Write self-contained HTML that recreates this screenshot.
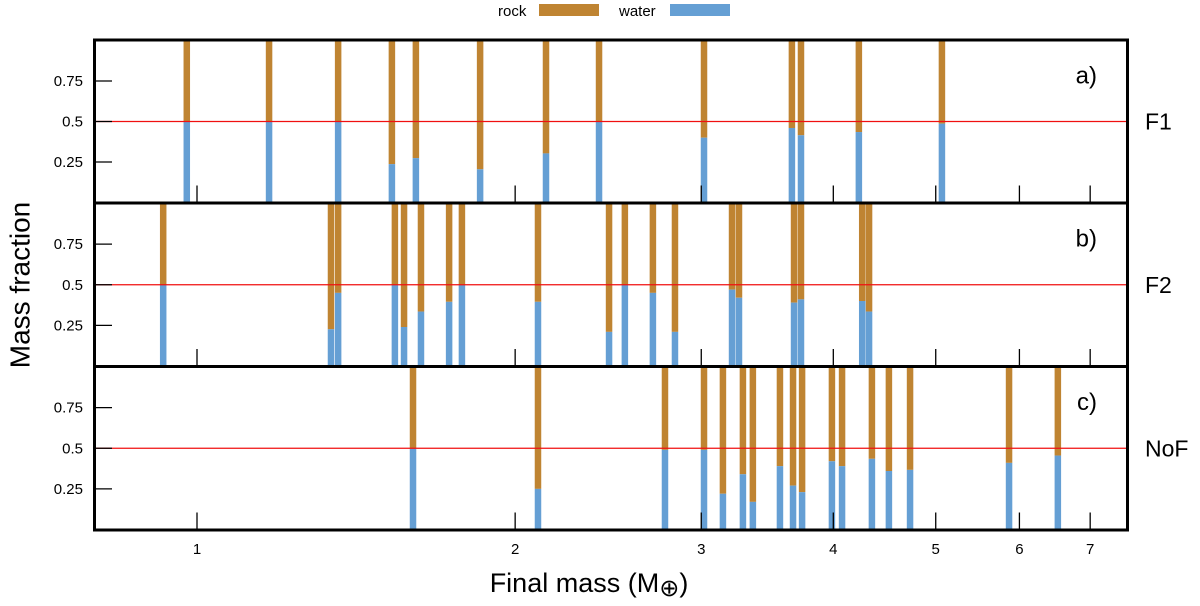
<!DOCTYPE html>
<html><head><meta charset="utf-8"><style>
html,body{margin:0;padding:0;background:#fff;}
svg{display:block;font-family:"Liberation Sans",sans-serif;}
</style></head><body>
<svg id="chart" width="1200" height="606" viewBox="0 0 1200 606" xmlns="http://www.w3.org/2000/svg">
<g id="legend">
  <text x="498" y="16" font-size="15">rock</text>
  <rect x="539" y="4" width="60" height="12" fill="#bf8432"/>
  <text x="619" y="16" font-size="15">water</text>
  <rect x="670" y="4" width="60" height="12" fill="#659fd4"/>
</g>
<g id="plot"></g>
<text transform="translate(22,285) rotate(-90)" text-anchor="middle" dominant-baseline="middle" font-size="28">Mass fraction</text>
<text x="589" y="592" text-anchor="middle" font-size="27">Final mass (M<tspan font-size="24" dy="4">⊕</tspan><tspan dy="-4">)</tspan></text>
</svg>
<script>
const xTicks = [1, 2, 3, 4, 5, 6, 7];
const yTicks = [0.25, 0.5, 0.75];
const yTickLabels = ["0.25", "0.5", "0.75"];
const panelLetters = ["a)", "b)", "c)"];
const panelNames = ["F1", "F2", "NoF"];
const massF1 = [0.978, 1.170, 1.360, 1.529, 1.611, 1.853, 2.139, 2.401, 3.018, 3.655, 3.728, 4.229, 5.068];
const waterF1 = [0.497, 0.497, 0.497, 0.237, 0.274, 0.205, 0.303, 0.497, 0.40, 0.46, 0.415, 0.435, 0.487];
const massF2 = [0.929, 1.339, 1.360, 1.539, 1.570, 1.629, 1.732, 1.781, 2.102, 2.454, 2.540, 2.700, 2.833, 3.208, 3.257, 3.672, 3.728, 4.260, 4.324];
const waterF2 = [0.5, 0.226, 0.45, 0.5, 0.24, 0.335, 0.395, 0.5, 0.395, 0.21, 0.5, 0.45, 0.21, 0.47, 0.42, 0.39, 0.41, 0.40, 0.335];
const massNoF = [1.601, 2.102, 2.772, 3.018, 3.145, 3.285, 3.357, 3.561, 3.664, 3.737, 3.988, 4.077, 4.351, 4.515, 4.728, 5.866, 6.524];
const waterNoF = [0.5, 0.25, 0.49, 0.49, 0.22, 0.34, 0.17, 0.39, 0.27, 0.23, 0.42, 0.39, 0.435, 0.36, 0.367, 0.41, 0.455];

const NS = "http://www.w3.org/2000/svg";
const plot = document.getElementById("plot");
const X0 = 95, X1 = 1127;
const panels = [{top: 40.5, bot: 202.5}, {top: 203.5, bot: 366}, {top: 367, bot: 529.5}];
const seriesMass = [massF1, massF2, massNoF];
const seriesWater = [waterF1, waterF2, waterNoF];
function xScale(m) { return 197 + 459 * Math.log(m); }
function mk(tag, attrs, parent) {
  const e = document.createElementNS(NS, tag);
  for (const k in attrs) e.setAttribute(k, attrs[k]);
  (parent || plot).appendChild(e);
  return e;
}
const BW = 6.5;
panels.forEach((p, pi) => {
  const yScale = v => p.bot - v * (p.bot - p.top);
  const g = mk("g", {});
  
  
  const ms = seriesMass[pi], ws = seriesWater[pi];
  ms.forEach((m, i) => {
    const cx = xScale(m);
    const r = mk("rect", {x: cx - BW / 2, y: yScale(1), width: BW, height: yScale(ws[i]) - yScale(1), fill: "#bf8432"}, g);
    
    
    const w = mk("rect", {x: cx - BW / 2, y: yScale(ws[i]), width: BW, height: yScale(0) - yScale(ws[i]), fill: "#659fd4"}, g);
    
    
  });
  const rl = mk("line", {x1: X0, x2: X1, y1: yScale(0.5), y2: yScale(0.5), stroke: "#f01010", "stroke-width": 1.3}, g);
  
  
  yTicks.forEach((t, i) => {
    const tl = mk("line", {x1: X0, x2: X0 + 17, y1: yScale(t), y2: yScale(t), stroke: "#000", "stroke-width": 1.3}, g);
    
    
    const tx = mk("text", {x: 83, y: yScale(t) + 5, "text-anchor": "end", "font-size": 15}, g);
    tx.textContent = yTickLabels[i];
    
    
  });
  xTicks.forEach(t => {
    const tl = mk("line", {x1: xScale(t), x2: xScale(t), y1: p.bot - 17, y2: p.bot, stroke: "#000", "stroke-width": 1.3}, g);
    
    
  });
  const lt = mk("text", {x: 1097, y: p.top + 43, "text-anchor": "end", "font-size": 24}, g);
  lt.textContent = panelLetters[pi];
  
  
  const nt = mk("text", {x: 1145, y: yScale(0.5) + 8, "font-size": 23}, g);
  nt.textContent = panelNames[pi];
  
  
});
const frame = mk("rect", {x: 94.5, y: 40, width: 1033, height: 490, fill: "none", stroke: "#000", "stroke-width": 3});


[203, 366.5].forEach(y => {
  const d = mk("line", {x1: 94.5, x2: 1127.5, y1: y, y2: y, stroke: "#000", "stroke-width": 3});
  
  
});
xTicks.forEach(t => {
  const tx = mk("text", {x: xScale(t), y: 554, "text-anchor": "middle", "font-size": 15});
  tx.textContent = String(t);
  
  
});
</script>
</body></html>
